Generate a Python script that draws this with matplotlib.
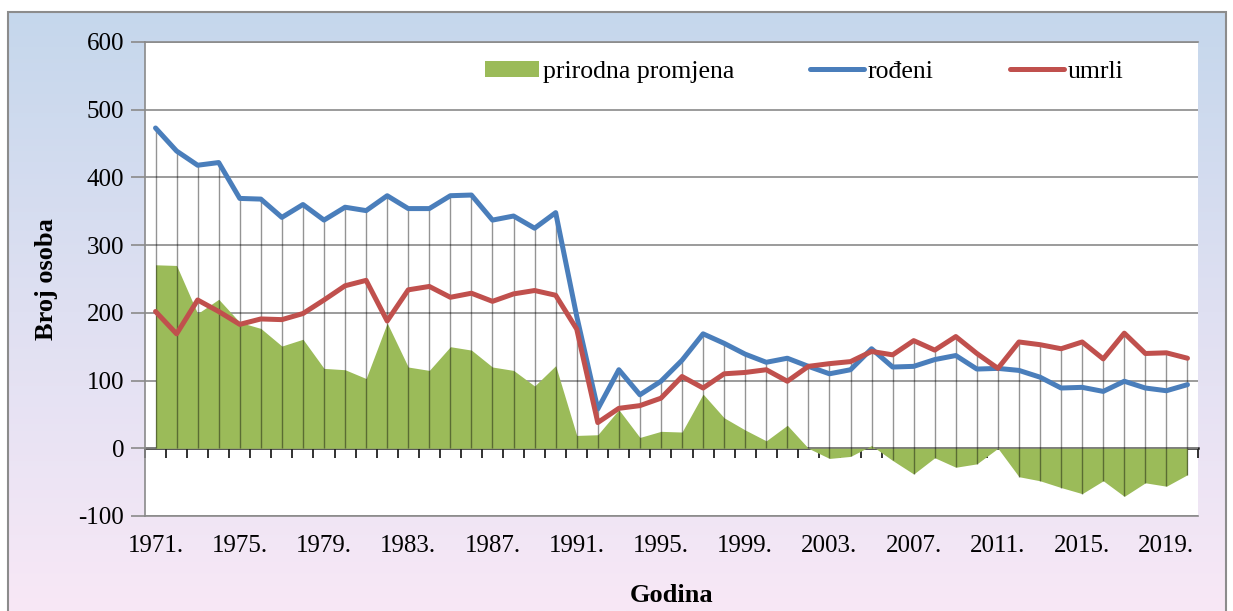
import matplotlib
matplotlib.use("Agg")
import matplotlib.pyplot as plt
import numpy as np
from matplotlib.colors import LinearSegmentedColormap
from matplotlib.patches import Rectangle

godine = list(range(1971, 2021))

rodjeni = [473, 439, 418, 422, 369, 368, 341, 360, 337, 356,
           351, 373, 354, 354, 373, 374, 337, 343, 325, 348,
           195, 58, 116, 79, 99, 130, 169, 155, 139, 127,
           133, 121, 110, 116, 147, 120, 121, 131, 137, 117,
           118, 115, 105, 89, 90, 84, 99, 89, 85, 94]

umrli = [202, 169, 219, 202, 183, 191, 190, 199, 219, 240,
         248, 188, 234, 239, 223, 229, 217, 228, 233, 226,
         176, 38, 59, 63, 74, 106, 89, 110, 112, 116,
         99, 121, 125, 128, 143, 138, 159, 145, 165, 140,
         118, 157, 153, 147, 157, 132, 170, 140, 141, 133]

prirodna = [271, 270, 199, 220, 186, 177, 151, 161, 118, 116,
            103, 185, 120, 115, 150, 145, 120, 115, 92, 122,
            19, 20, 57, 16, 25, 24, 80, 45, 27, 11,
            34, 0, -15, -12, 4, -18, -38, -14, -28, -23,
            0, -42, -48, -58, -67, -48, -71, -51, -56, -39]

xtick_godine = list(range(1971, 2020, 4))
xtick_labels = [f"{g}." for g in xtick_godine]

plavo = "#4a7ebb"
crveno = "#c0504d"
zeleno = "#9bbb59"

plt.rcParams["font.family"] = ["Liberation Serif", "DejaVu Serif"]
plt.rcParams["axes.unicode_minus"] = False

W, H = 1233, 611
fig = plt.figure(figsize=(W / 100, H / 100), dpi=100)

# gradient background inside the chart frame
bg = fig.add_axes([8 / W, 0, (1226 - 8) / W, (H - 12) / H], zorder=-10)
cmap = LinearSegmentedColormap.from_list("bg", ["#c5d7ec", "#dfe0f2", "#f8e8f6"])
bg.imshow(np.linspace(0, 1, 256).reshape(-1, 1), aspect="auto", cmap=cmap,
          extent=[0, 1, 0, 1], origin="upper")
bg.set_axis_off()
fig.patches.append(Rectangle((8 / W, -0.05), (1226 - 8) / W, 1.05 - 12 / H,
                             transform=fig.transFigure, fill=False,
                             edgecolor="#8c8c8c", linewidth=1.5, zorder=-5))

ax = fig.add_axes([145 / W, 1 - 516 / H, (1198 - 145) / W, (516 - 42) / H])
ax.set_facecolor("white")

ax.fill_between(godine, prirodna, 0, color=zeleno, linewidth=0, zorder=1,
                label="prirodna promjena")

vrh = np.maximum(np.maximum(rodjeni, umrli), prirodna)
dno = np.minimum(prirodna, 0)
ax.vlines(godine, dno, vrh, color="black", alpha=0.42, linewidth=1, zorder=2)

ax.plot(godine, rodjeni, color=plavo, linewidth=3.6, zorder=4,
        solid_capstyle="round", solid_joinstyle="round", label="rođeni")
ax.plot(godine, umrli, color=crveno, linewidth=3.6, zorder=4,
        solid_capstyle="round", solid_joinstyle="round", label="umrli")

ax.set_xlim(1970.5, 2020.5)
ax.set_ylim(-100, 600)
ax.set_yticks(range(-100, 601, 100))
ax.yaxis.grid(True, color="#8a8a8a", linewidth=1.2, zorder=0)
ax.set_axisbelow(True)

ax.set_xticks(xtick_godine)
ax.set_xticklabels(xtick_labels)
ax.tick_params(axis="x", length=0, pad=14, labelsize=18)
ax.tick_params(axis="y", length=10, width=1.2, color="#8a8a8a", pad=5,
               labelsize=18)

for s in ["left", "bottom", "top"]:
    ax.spines[s].set_color("#8a8a8a")
    ax.spines[s].set_linewidth(1.2)
ax.spines["right"].set_visible(False)

# category axis sitting on zero, ticks between categories
nula = ax.secondary_xaxis(100 / 700)
nula.set_xticks(np.arange(1970.5, 2021, 1))
nula.set_xticklabels([])
nula.tick_params(axis="x", direction="out", length=7, width=1.3, color="#222222")
nula.spines["bottom"].set_color("#222222")
nula.spines["bottom"].set_linewidth(1.8)

ax.set_ylabel("Broj osoba", fontsize=19, fontweight="bold", va="center")
ax.yaxis.set_label_coords((46 - 145) / 1053, 0.5)
ax.set_xlabel("Godina", fontsize=19, fontweight="bold", va="center")
ax.xaxis.set_label_coords(0.5, (516 - 595) / 474)

ax.legend(loc="center", bbox_to_anchor=(0.626, 0.937), ncol=3, frameon=False,
          fontsize=18.5, handlelength=2.1, handleheight=0.6, handletextpad=0.15,
          columnspacing=2.95)

fig.savefig("out.png", dpi=100)
